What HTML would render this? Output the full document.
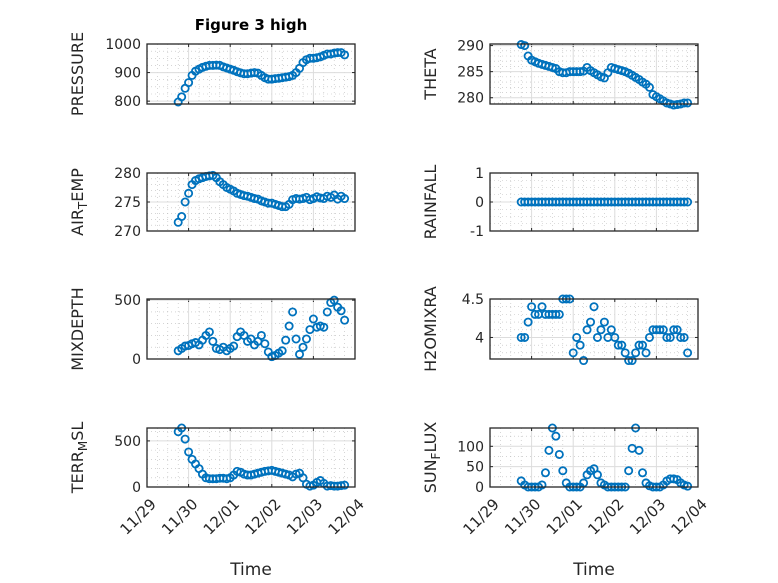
<!DOCTYPE html>
<html><head><meta charset="utf-8">
<style>
html,body{margin:0;padding:0;background:#fff;}
svg{display:block;font-family:"DejaVu Sans","Liberation Sans",sans-serif;}
</style></head>
<body>
<svg id="fig" width="778" height="583" viewBox="0 0 778 583" xmlns="http://www.w3.org/2000/svg">
<rect width="778" height="583" fill="#fff"/>
<text x="251" y="30" text-anchor="middle" font-size="15" font-weight="bold" fill="#000">Figure 3 high</text>
</svg>
<script>
// time samples (days since 11/29 00:00)
const tStart = 0.75;
const tStep = 1/12;
const dayLabels = ["11/29","11/30","12/01","12/02","12/03","12/04"];
const pressure = [797,815,845,865,890,905,912,918,922,925,925,926,925,920,916,912,908,903,899,896,896,898,900,898,890,882,877,877,879,880,882,884,886,890,900,915,935,945,950,950,952,955,960,965,965,968,970,970,962];
const theta = [290.2,290,288,287.2,286.9,286.6,286.4,286.2,286,285.8,285.6,285,284.8,284.8,285,285,285,285,285.1,285.8,285.2,284.8,284.4,284,283.8,284.8,285.8,285.6,285.4,285.2,285,284.7,284.3,283.9,283.5,283,282.6,282,280.6,280.2,279.8,279.4,279,278.8,278.6,278.7,278.8,279,279];
const airTemp = [271.5,272.5,275,276.5,278,278.7,279,279.2,279.4,279.5,279.6,279.2,278.5,278,277.5,277.2,276.9,276.5,276.3,276.1,276,275.8,275.6,275.5,275.2,275,274.8,274.8,274.6,274.4,274.2,274.2,274.6,275.4,275.6,275.5,275.6,275.8,275.4,275.6,275.9,275.7,275.6,276,275.8,276.2,275.5,276,275.6];
const rainfall = [0,0,0,0,0,0,0,0,0,0,0,0,0,0,0,0,0,0,0,0,0,0,0,0,0,0,0,0,0,0,0,0,0,0,0,0,0,0,0,0,0,0,0,0,0,0,0,0,0];
const mixDepth = [70,90,110,115,130,140,120,160,200,230,150,90,80,100,70,90,110,190,230,200,150,170,120,150,200,130,60,20,30,50,70,160,280,400,170,40,100,170,250,340,270,280,270,400,480,500,440,410,330];
const h2oMix = [4.0,4.0,4.2,4.4,4.3,4.3,4.4,4.3,4.3,4.3,4.3,4.3,4.5,4.5,4.5,3.8,4.0,3.9,3.7,4.1,4.2,4.4,4.0,4.1,4.2,4.0,4.1,4.0,3.9,3.9,3.8,3.7,3.7,3.8,3.9,3.9,3.8,4.0,4.1,4.1,4.1,4.1,4.0,4.0,4.1,4.1,4.0,4.0,3.8];
const terrMsl = [600,640,520,380,300,250,200,140,100,90,90,90,95,95,90,100,130,170,160,140,130,130,140,150,160,170,175,180,170,160,150,140,130,110,140,150,100,30,10,20,50,70,40,10,15,10,10,15,20];
const sunFlux = [15,5,0,0,0,0,5,35,90,145,125,80,40,10,0,0,0,0,10,30,40,45,30,10,5,0,0,0,0,0,0,40,95,145,90,35,10,3,0,0,0,5,15,20,20,18,10,5,2];
const pressureTicks = [800,900,1000];
const thetaTicks = [280,285,290];
const airTicks = [270,275,280];
const rainTicks = [-1,0,1];
const mixTicks = [0,500];
const h2oTicks = [4,4.5];
const terrTicks = [0,500];
const sunTicks = [0,50,100];

const NS = "http://www.w3.org/2000/svg";
const svg = document.getElementById('fig');
function mk(tag, attrs, parent){
  const e = document.createElementNS(NS, tag);
  for (const k in attrs) e.setAttribute(k, attrs[k]);
  (parent||svg).appendChild(e);
  return e;
}
const LX = 147, RX = 490, W = 208;
const rows = [[44,104],[173,231],[299,359],[428,487]];
const panels = [
  {key:'pressure', x:LX, r:0, data:pressure, ymin:790, ymax:1000, ticks:pressureTicks, minor:25, label:['PRESSURE']},
  {key:'theta', x:RX, r:0, data:theta, ymin:278.8, ymax:290.3, ticks:thetaTicks, minor:1, label:['THETA']},
  {key:'air-temp', x:LX, r:1, data:airTemp, ymin:270, ymax:280, ticks:airTicks, minor:1, label:['AIR','T','EMP']},
  {key:'rainfall', x:RX, r:1, data:rainfall, ymin:-1, ymax:1, ticks:rainTicks, minor:0.25, label:['RAINFALL']},
  {key:'mixdepth', x:LX, r:2, data:mixDepth, ymin:0, ymax:510, ticks:mixTicks, minor:100, label:['MIXDEPTH']},
  {key:'h2omixra', x:RX, r:2, data:h2oMix, ymin:3.72, ymax:4.5, ticks:h2oTicks, minor:0.1, label:['H2OMIXRA']},
  {key:'terr-msl', x:LX, r:3, data:terrMsl, ymin:0, ymax:640, ticks:terrTicks, minor:100, label:['TERR','M','SL']},
  {key:'sun-flux', x:RX, r:3, data:sunFlux, ymin:0, ymax:145, ticks:sunTicks, minor:25, label:['SUN','F','LUX']}
];
panels.forEach(p=>{
  const top = rows[p.r][0], bot = rows[p.r][1], H = bot-top;
  const xs = t => p.x + t/5*W;
  const ys = v => bot - (v-p.ymin)/(p.ymax-p.ymin)*H;
  const g = mk('g', {});
  
  
  mk('rect',{x:p.x,y:top,width:W,height:H,fill:'#fff'},g);
  for (let t=0.25;t<5;t+=0.25){ if (Math.abs(t-Math.round(t))<1e-6) continue;
    mk('line',{x1:xs(t),x2:xs(t),y1:top,y2:bot,stroke:'#bbb','stroke-width':0.6,'stroke-dasharray':'1,3'},g); }
  for (let v=Math.ceil(p.ymin/p.minor)*p.minor; v<p.ymax; v+=p.minor){
    if (p.ticks.some(tk=>Math.abs(tk-v)<1e-6)) continue;
    mk('line',{x1:p.x,x2:p.x+W,y1:ys(v),y2:ys(v),stroke:'#bbb','stroke-width':0.6,'stroke-dasharray':'1,3'},g); }
  for (let d=1; d<5; d++){
    mk('line',{x1:xs(d),x2:xs(d),y1:top,y2:bot,stroke:'#dcdcdc','stroke-width':1},g);
  }
  for (let d=0; d<=5; d++){
    mk('line',{x1:xs(d),x2:xs(d),y1:bot,y2:bot-3,stroke:'#262626','stroke-width':1},g);
    mk('line',{x1:xs(d),x2:xs(d),y1:top,y2:top+3,stroke:'#262626','stroke-width':1},g);
  }
  p.ticks.forEach(v=>{
    const y = ys(v);
    if (y>top+1 && y<bot-1) mk('line',{x1:p.x,x2:p.x+W,y1:y,y2:y,stroke:'#dcdcdc','stroke-width':1},g);
    mk('line',{x1:p.x,x2:p.x+3,y1:y,y2:y,stroke:'#262626','stroke-width':1},g);
    mk('line',{x1:p.x+W,x2:p.x+W-3,y1:y,y2:y,stroke:'#262626','stroke-width':1},g);
    const tl = mk('text',{x:p.x-6,y:y+5,'text-anchor':'end','font-size':14,fill:'#262626'},g);
    
    
    tl.textContent = String(v);
  });
  p.data.forEach((v,i)=>{
    const t = tStart + i*tStep;
    const c = mk('circle',{cx:xs(t),cy:ys(v),r:3.6,fill:'none',stroke:'#0072BD','stroke-width':1.8},g);
    
    
  });
  mk('rect',{x:p.x,y:top,width:W,height:H,fill:'none',stroke:'#262626','stroke-width':1.3},g);
  const lx = p.x - (p.x===LX?64:54), ly = (top+bot)/2;
  const yl = mk('text',{x:lx,y:ly,'text-anchor':'middle','font-size':16,fill:'#262626',transform:`rotate(-90 ${lx} ${ly})`},g);
  
  
  if (p.label.length===1) yl.textContent = p.label[0];
  else {
    mk('tspan',{},yl).textContent = p.label[0];
    mk('tspan',{'font-size':12,dy:4},yl).textContent = p.label[1];
    mk('tspan',{dy:-4},yl).textContent = p.label[2];
  }
  if (p.r===3){
    dayLabels.forEach((lab,d)=>{
      const tx = xs(d)+10, ty = bot+18;
      const xl = mk('text',{x:tx,y:ty,'text-anchor':'end','font-size':15,fill:'#262626',transform:`rotate(-45 ${tx} ${ty})`},g);
      
      
      xl.textContent = lab;
    });
    const xt = mk('text',{x:p.x+W/2,y:575,'text-anchor':'middle','font-size':17,fill:'#262626'},g);
    
    
    xt.textContent = 'Time';
  }
});
</script>
</body></html>
